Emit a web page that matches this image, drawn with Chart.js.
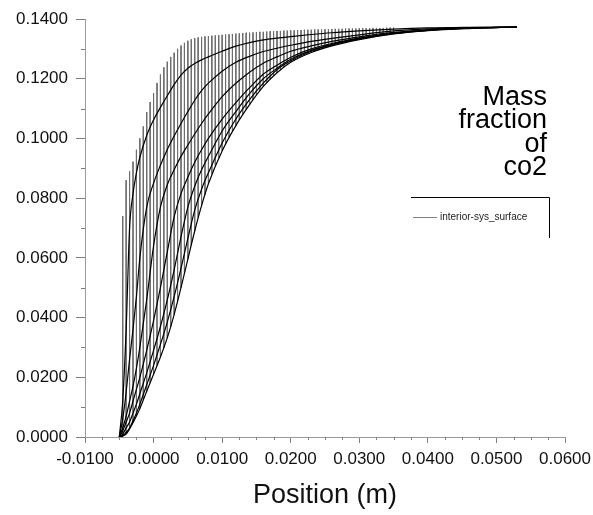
<!DOCTYPE html>
<html>
<head>
<meta charset="utf-8">
<script src="https://cdn.jsdelivr.net/npm/chart.js@4.4.0/dist/chart.umd.min.js"></script>
<style>
  html, body { margin: 0; padding: 0; background: #fff; }
</style>
</head>
<body>
<canvas id="co2" width="593" height="515"></canvas>
<script>
// axis ticks
var xTicks = [-0.01, 0, 0.01, 0.02, 0.03, 0.04, 0.05, 0.06];
var xMinorTicks = [-0.0075, -0.005, -0.0025, 0.0025, 0.005, 0.0075, 0.0125, 0.015, 0.0175,
  0.0225, 0.025, 0.0275, 0.0325, 0.035, 0.0375, 0.0425, 0.045, 0.0475, 0.0525, 0.055, 0.0575];
var yTicks = [0, 0.02, 0.04, 0.06, 0.08, 0.10, 0.12, 0.14];
var yMinorTicks = [0.01, 0.03, 0.05, 0.07, 0.09, 0.11, 0.13];

var titleLines = ['Mass', 'fraction', 'of', 'co2'];
var seriesName = 'interior-sys_surface';

// mesh columns: x position, value at top row and at bottom row
var colX = [-0.0045, -0.0040, -0.0035, -0.0030, -0.0025, -0.0020, -0.0015, -0.0010, -0.0005, 0.0000,
  0.0005, 0.0010, 0.0015, 0.0020, 0.0025, 0.0030, 0.0035, 0.0040, 0.0045, 0.0050,
  0.0055, 0.0060, 0.0065, 0.0070, 0.0075, 0.0080, 0.0085, 0.0090, 0.0095, 0.0100,
  0.0105, 0.0110, 0.0115, 0.0120, 0.0125, 0.0130, 0.0135, 0.0140, 0.0145, 0.0150,
  0.0155, 0.0160, 0.0165, 0.0170, 0.0175, 0.0180, 0.0185, 0.0190, 0.0195, 0.0200,
  0.0205, 0.0210, 0.0215, 0.0220, 0.0225, 0.0230, 0.0235, 0.0240, 0.0245, 0.0250,
  0.0255, 0.0260, 0.0265, 0.0270, 0.0275, 0.0280, 0.0285, 0.0290, 0.0295, 0.0300,
  0.0305, 0.0310, 0.0315, 0.0320, 0.0325, 0.0330, 0.0335, 0.0340, 0.0345, 0.0350];
var colTop = [0.0740, 0.0860, 0.0890, 0.0922, 0.0962, 0.1000, 0.1040, 0.1088, 0.1122, 0.1152,
  0.1186, 0.1214, 0.1238, 0.1257, 0.1273, 0.1287, 0.1300, 0.1311, 0.1320, 0.1327,
  0.1332, 0.1336, 0.1338, 0.1340, 0.1342, 0.1343, 0.1344, 0.1345, 0.1346, 0.1347,
  0.1348, 0.1349, 0.1350, 0.1351, 0.1352, 0.1353, 0.1354, 0.1354, 0.1355, 0.1356,
  0.1357, 0.1357, 0.1358, 0.1359, 0.1359, 0.1360, 0.1360, 0.1361, 0.1361, 0.1362,
  0.1362, 0.1363, 0.1363, 0.1364, 0.1364, 0.1364, 0.1365, 0.1365, 0.1365, 0.1366,
  0.1366, 0.1366, 0.1367, 0.1367, 0.1367, 0.1368, 0.1368, 0.1368, 0.1368, 0.1369,
  0.1369, 0.1369, 0.1369, 0.1370, 0.1370, 0.1370, 0.1370, 0.1371, 0.1371, 0.1371];
var colBottom = [0.0003, 0.0010, 0.0027, 0.0048, 0.0070, 0.0095, 0.0125, 0.0153, 0.0182, 0.0210,
  0.0240, 0.0268, 0.0298, 0.0332, 0.0370, 0.0410, 0.0453, 0.0500, 0.0548, 0.0596,
  0.0642, 0.0690, 0.0735, 0.0775, 0.0812, 0.0848, 0.0882, 0.0910, 0.0935, 0.0958,
  0.0982, 0.1003, 0.1024, 0.1043, 0.1062, 0.1080, 0.1097, 0.1113, 0.1130, 0.1146,
  0.1160, 0.1174, 0.1187, 0.1198, 0.1210, 0.1220, 0.1229, 0.1238, 0.1247, 0.1255,
  0.1262, 0.1268, 0.1274, 0.1279, 0.1284, 0.1288, 0.1292, 0.1296, 0.1300, 0.1303,
  0.1307, 0.1310, 0.1313, 0.1316, 0.1319, 0.1321, 0.1324, 0.1326, 0.1329, 0.1331,
  0.1333, 0.1335, 0.1337, 0.1339, 0.1341, 0.1343, 0.1345, 0.1347, 0.1348, 0.1350];

// mesh rows (black curves), read at these positions
var curveX = [-0.005, -0.0045, -0.004, -0.0035, -0.003, -0.0025, -0.002, -0.001, 0, 0.001, 0.002, 0.003,
  0.004, 0.005, 0.006, 0.007, 0.008, 0.010, 0.012, 0.014, 0.016, 0.018, 0.020, 0.023, 0.026, 0.030,
  0.035, 0.040, 0.046, 0.053];
var rowA = [0, 0.012, 0.036, 0.070, 0.0815, 0.0885, 0.0937, 0.1010, 0.1062, 0.1104, 0.1143, 0.1180,
  0.1212, 0.1235, 0.1251, 0.1263, 0.1273, 0.1292, 0.1309, 0.1321, 0.1330, 0.1336, 0.1341, 0.1348, 0.1354, 0.1360,
  0.1366, 0.1370, 0.1372, 0.1373];
var rowB = [0, 0.006, 0.015, 0.026, 0.036, 0.047, 0.060, 0.0770, 0.0850, 0.0910, 0.0963, 0.1008,
  0.1050, 0.1090, 0.1128, 0.1160, 0.1185, 0.1225, 0.1255, 0.1275, 0.1291, 0.1302, 0.1312, 0.1325, 0.1335, 0.1347,
  0.1360, 0.1367, 0.1371, 0.1373];
var rowC = [0, 0.003, 0.007, 0.012, 0.017, 0.023, 0.030, 0.046, 0.0640, 0.0770, 0.0845, 0.0895,
  0.0940, 0.0978, 0.1015, 0.1050, 0.1082, 0.1140, 0.1185, 0.1222, 0.1252, 0.1273, 0.1292, 0.1310, 0.1325, 0.1340,
  0.1355, 0.1364, 0.1370, 0.1373];
var rowD = [0, 0.002, 0.005, 0.008, 0.012, 0.016, 0.020, 0.029, 0.039, 0.050, 0.062, 0.0737,
  0.0815, 0.0870, 0.0920, 0.0962, 0.1000, 0.1065, 0.1120, 0.1170, 0.1215, 0.1245, 0.1272, 0.1300, 0.1318, 0.1336,
  0.1353, 0.1363, 0.1370, 0.1373];
var rowE = [0, 0.001, 0.003, 0.005, 0.008, 0.011, 0.0145, 0.0215, 0.029, 0.037, 0.0459, 0.0560,
  0.0670, 0.0770, 0.0840, 0.0895, 0.0940, 0.1025, 0.1090, 0.1150, 0.1200, 0.1235, 0.1265, 0.1295, 0.1315, 0.1334,
  0.1352, 0.1362, 0.1369, 0.1373];
var rowF = [0, 0.0005, 0.0015, 0.003, 0.0055, 0.008, 0.011, 0.0175, 0.024, 0.031, 0.0385, 0.0470,
  0.0565, 0.0665, 0.0760, 0.0830, 0.0885, 0.0985, 0.1065, 0.1130, 0.1185, 0.1230, 0.1260, 0.1292, 0.1313, 0.1333,
  0.1351, 0.1362, 0.1369, 0.1373];
var rowG = [0, 0.0003, 0.0010, 0.0027, 0.0048, 0.0070, 0.0095, 0.0153, 0.0210, 0.0268, 0.0332, 0.0410,
  0.0500, 0.0596, 0.0690, 0.0775, 0.0848, 0.0958, 0.1043, 0.1113, 0.1174, 0.1220, 0.1255, 0.1288, 0.1310, 0.1331,
  0.1350, 0.1361, 0.1368, 0.1373];

var fontFam = "'Liberation Sans', Arial, sans-serif";

function rowPoints(ys) {
  return curveX.map(function (x, i) { return { x: x, y: ys[i] }; });
}

var meshPoints = [];
colX.forEach(function (x, i) {
  meshPoints.push({ x: x, y: colTop[i] }, { x: x, y: colBottom[i] }, { x: x, y: null });
});

var datasets = [rowA, rowB, rowC, rowD, rowE, rowF, rowG].map(function (r) {
  return {
    data: rowPoints(r),
    borderColor: '#000',
    borderWidth: 1.2,
    pointRadius: 0,
    cubicInterpolationMode: 'monotone',
    fill: false
  };
});
datasets.push({
  data: meshPoints,
  borderColor: '#6e6e6e',
  borderWidth: 1,
  pointRadius: 0,
  spanGaps: false,
  fill: false
});

var minorTicks = {
  id: 'minorTicks',
  afterDraw: function (chart) {
    var ctx = chart.ctx, xs = chart.scales.x, ys = chart.scales.y;
    ctx.save();
    ctx.strokeStyle = '#808080';
    ctx.lineWidth = 1;
    ctx.beginPath();
    xMinorTicks.forEach(function (v) {
      var px = Math.round(xs.getPixelForValue(v)) + 0.5;
      ctx.moveTo(px, ys.bottom);
      ctx.lineTo(px, ys.bottom + 3);
    });
    yMinorTicks.forEach(function (v) {
      var py = Math.round(ys.getPixelForValue(v)) + 0.5;
      ctx.moveTo(xs.left - 4, py);
      ctx.lineTo(xs.left, py);
    });
    ctx.stroke();
    ctx.restore();
  }
};

// title in the plot and the boxed series key
var plotNotes = {
  id: 'plotNotes',
  afterDraw: function (chart) {
    var ctx = chart.ctx;
    ctx.save();
    ctx.fillStyle = '#000';
    ctx.font = '27px ' + fontFam;
    ctx.textAlign = 'right';
    ctx.textBaseline = 'alphabetic';
    titleLines.forEach(function (t, i) {
      ctx.fillText(t, 547, 105 + i * 23.3);
    });
    ctx.strokeStyle = '#000';
    ctx.lineWidth = 1;
    ctx.beginPath();
    ctx.moveTo(411, 197.5);
    ctx.lineTo(549.5, 197.5);
    ctx.lineTo(549.5, 238);
    ctx.stroke();
    ctx.strokeStyle = '#808080';
    ctx.beginPath();
    ctx.moveTo(413, 217.5);
    ctx.lineTo(437, 217.5);
    ctx.stroke();
    ctx.font = '10px ' + fontFam;
    ctx.textAlign = 'left';
    ctx.textBaseline = 'middle';
    ctx.fillStyle = '#222';
    ctx.fillText(seriesName, 440, 217);
    ctx.restore();
  }
};

new Chart(document.getElementById('co2'), {
  type: 'line',
  data: { datasets: datasets },
  options: {
    responsive: false,
    animation: false,
    events: [],
    layout: { autoPadding: false, padding: { left: 0, right: 28, top: 19, bottom: 0 } },
    plugins: { legend: { display: false }, tooltip: { enabled: false } },
    scales: {
      x: {
        type: 'linear',
        min: -0.01,
        max: 0.06,
        afterBuildTicks: function (s) { s.ticks = xTicks.map(function (v) { return { value: v }; }); },
        afterFit: function (s) { s.height = 78; s.paddingLeft = 0; s.paddingRight = 0; },
        grid: { drawOnChartArea: false, tickLength: 6, color: '#808080' },
        border: { color: '#9a9a9a' },
        ticks: {
          color: '#111', padding: 6, maxRotation: 0, autoSkip: false,
          font: { family: fontFam, size: 17 },
          callback: function (v) { return v.toFixed(4); }
        },
        title: {
          display: true, text: 'Position (m)', color: '#111',
          font: { family: fontFam, size: 27 }, padding: { top: 0, bottom: 3 }
        }
      },
      y: {
        type: 'linear',
        min: 0,
        max: 0.14,
        afterBuildTicks: function (s) { s.ticks = yTicks.map(function (v) { return { value: v }; }); },
        afterFit: function (s) { s.width = 85; s.paddingTop = 0; s.paddingBottom = 0; },
        grid: { drawOnChartArea: false, tickLength: 9, color: '#808080' },
        border: { color: '#9a9a9a' },
        ticks: {
          color: '#111', padding: 8, autoSkip: false,
          font: { family: fontFam, size: 17 },
          callback: function (v) { return v.toFixed(4); }
        }
      }
    }
  },
  plugins: [minorTicks, plotNotes]
});
</script>
</body>
</html>
